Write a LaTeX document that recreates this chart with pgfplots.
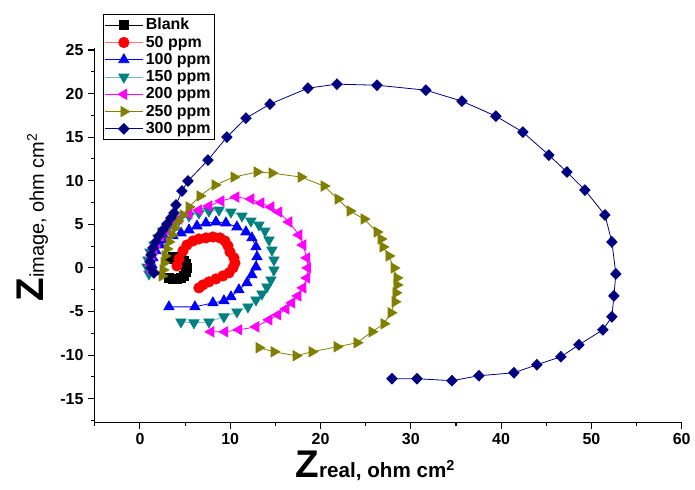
\documentclass[border=0pt]{standalone}
\usepackage{fontspec}
\setmainfont{Liberation Sans}
\usepackage{pgfplots}
\pgfplotsset{compat=1.18}
\definecolor{olv}{RGB}{128,128,0}
\definecolor{nvy}{RGB}{0,0,128}
\definecolor{tl}{RGB}{0,128,128}
\definecolor{mgt}{RGB}{255,0,255}

\begin{document}
\begin{tikzpicture}
\begin{axis}[
    scale only axis, width=441pt, height=281pt,
    xmin=-5, xmax=60, ymin=-17.7, ymax=25.2,
    axis x line*=bottom, axis y line*=left,
    axis line style={line width=1pt},
    xtick={0,10,...,60}, minor xtick={-5,5,...,55},
    ytick={-15,-10,...,25}, minor ytick={-17.5,-12.5,...,22.5},
    tick align=outside, major tick length=5pt, minor tick length=3pt,
    tick style={line width=0.8pt, black},
    /pgf/number format/assume math mode=true,
    tick label style={font=\bfseries\fontsize{12}{14}\selectfont},
    xlabel={{\fontsize{29}{29}\selectfont\bfseries Z}{\fontsize{15.5}{16}\selectfont\bfseries real, ohm cm\textsuperscript{2}}},
    ylabel={{\fontsize{29}{29}\selectfont\bfseries Z}{\fontsize{15}{16}\selectfont image, ohm cm\textsuperscript{2}}},
    xlabel style={at={(axis description cs:0.478,-0.148)}, anchor=base},
    ylabel style={at={(axis description cs:-0.087,0.548)}, anchor=base},
    legend cell align=left,
    legend style={at={(axis description cs:0.0136,1.092)}, anchor=north west,
        draw=black, line width=0.6pt, inner sep=1pt, row sep=-0.9pt,
        font=\bfseries\fontsize{12}{12}\selectfont},
    legend image code/.code={\draw[mark repeat=2,mark phase=2] plot coordinates {(0cm,0cm) (0.5cm,0cm) (1.0cm,0cm)};},
    every axis plot/.append style={line width=0.6pt},
]
% Blank
\addplot[black, mark=square*, mark size=3.6pt, mark options={solid, fill=black}] coordinates {
(3.21,-1.15) (3.65,-1.26) (4.10,-1.26) (4.54,-1.15) (4.87,-0.92) (5.09,-0.46) (5.20,0)
(5.09,0.46) (4.87,0.80) (4.54,1.15) (4.10,1.26) (3.65,1.26) (3.32,1.03)
};
\addlegendentry{Blank}
% 50 ppm
\addplot[draw=red!55, mark=*, mark size=3.9pt, mark options={solid, fill=red, draw=red}] coordinates {
(4.10,0.23) (4.32,1.03) (4.76,1.95) (5.20,2.63) (5.87,3.09) (6.53,3.32) (7.31,3.44)
(8.08,3.55) (8.86,3.44) (9.41,3.09) (9.75,2.52) (9.97,1.83) (10.41,1.15) (10.52,0.57)
(10.30,0) (9.86,-0.57) (9.19,-0.92) (8.42,-1.26) (7.64,-1.60) (6.98,-1.95) (6.53,-2.29)
};
\addlegendentry{50 ppm}
% 100 ppm
\addplot[blue, mark=triangle*, mark size=4.4pt, mark options={solid, fill=blue}] coordinates {
(1.55,-0.46) (1.33,0.34) (1.44,1.15) (1.77,1.95) (2.21,2.63) (2.88,3.21) (3.65,3.67)
(4.54,4.01) (5.43,4.35) (6.31,4.81) (7.31,5.15) (8.42,5.27) (9.52,5.15) (10.74,4.70)
(11.74,4.12) (12.40,3.44) (12.85,2.41) (12.96,1.26) (12.85,0.11) (12.40,-0.80)
(11.85,-1.72) (10.96,-2.52) (10.08,-3.32) (9.30,-3.78) (8.08,-4.01) (6.09,-4.47) (3.21,-4.47)
};
\addlegendentry{100 ppm}
% 150 ppm
\addplot[draw=tl!55, mark=triangle*, mark size=4.4pt, mark options={solid, fill=tl, draw=tl, rotate=180}] coordinates {
(1.00,-0.69) (0.78,0.11) (0.89,0.92) (1.11,1.83) (1.55,2.63) (1.99,3.44) (2.55,4.24)
(3.32,4.93) (4.32,5.50) (5.43,5.96) (6.53,6.30) (7.64,6.53) (8.75,6.64) (10.08,6.41)
(11.30,5.96) (12.29,5.38) (13.18,4.93) (13.84,4.24) (14.29,3.21) (14.62,2.06)
(14.84,0.92) (14.84,-0.23) (14.51,-1.37) (14.06,-2.18) (13.51,-2.98) (12.85,-3.67)
(11.96,-4.47) (10.74,-5.04) (9.30,-5.61) (7.64,-6.19) (5.98,-6.30) (4.54,-6.19)
};
\addlegendentry{150 ppm}
% 200 ppm
\addplot[mgt, mark=triangle*, mark size=4.4pt, mark options={solid, fill=mgt, rotate=90}] coordinates {
(1.33,-0.46) (1.22,0.34) (1.33,1.15) (1.55,2.06) (1.88,2.86) (2.33,3.67) (2.88,4.35)
(3.54,5.04) (4.32,5.61) (5.43,6.19) (6.53,6.64) (7.64,7.10) (8.97,7.67) (10.63,8.13)
(12.29,7.90) (13.40,7.45) (14.51,6.99) (15.39,6.41) (16.50,5.27) (17.61,3.78)
(18.05,2.63) (18.49,1.15) (18.60,0) (18.49,-1.15) (18.05,-2.29) (17.50,-3.21)
(16.83,-4.01) (16.17,-4.70) (15.28,-5.38) (14.29,-5.96) (12.85,-6.76) (10.96,-7.10)
(9.41,-7.33) (7.86,-7.33)
};
\addlegendentry{200 ppm}
% 250 ppm
\addplot[olv, mark=triangle*, mark size=4.4pt, mark options={solid, fill=olv, rotate=-90}] coordinates {
(2.44,-0.92) (2.55,-0.23) (2.66,0.57) (2.77,1.37) (2.99,2.18) (3.21,2.98) (3.54,3.78)
(3.88,4.58) (4.21,5.38) (4.76,6.07) (5.43,6.99) (6.64,8.25) (8.31,9.51) (10.41,10.42)
(12.96,11.00) (14.62,10.88) (17.83,10.42) (20.38,9.39) (21.93,7.90) (23.26,6.53)
(24.81,5.61) (26.25,4.12) (26.69,3.32) (26.91,2.41) (27.57,1.37) (28.13,0)
(28.46,-1.15) (28.46,-1.95) (28.35,-2.86) (28.24,-3.89) (27.80,-5.15) (27.02,-6.41)
(25.69,-7.33) (24.03,-8.59) (21.82,-9.05) (19.05,-9.62) (17.28,-10.08) (14.84,-9.62)
(13.18,-9.16)
};
\addlegendentry{250 ppm}
% 300 ppm
\addplot[nvy, mark=diamond*, mark size=4.0pt, mark options={solid, fill=nvy, xscale=1.3}] coordinates {
(1.55,-0.57) (1.22,0) (1.11,0.69) (1.22,1.49) (1.44,2.29) (1.77,2.98) (2.10,3.67)
(2.55,4.35) (2.99,5.04) (3.43,5.73) (3.77,6.30) (3.99,7.22) (4.65,8.82) (5.32,9.97)
(7.53,12.37) (9.63,15.01) (11.74,17.18) (14.40,18.79) (18.60,20.62) (21.82,21.08)
(26.25,20.96) (31.67,20.39) (35.66,19.13) (39.42,17.41) (42.41,15.58) (45.29,12.94)
(47.29,11.00) (49.28,8.93) (51.50,6.07) (52.27,2.98) (52.71,-0.69) (52.49,-3.21)
(52.27,-5.61) (51.27,-7.10) (48.62,-8.82) (46.62,-10.19) (43.96,-11.11) (41.42,-12.03)
(37.54,-12.37) (34.55,-12.94) (30.68,-12.71) (27.91,-12.71)
};
\addlegendentry{300 ppm}
\end{axis}
\path (-71.25pt,-50.25pt) rectangle (450pt,317.25pt);
\end{tikzpicture}
\end{document}
